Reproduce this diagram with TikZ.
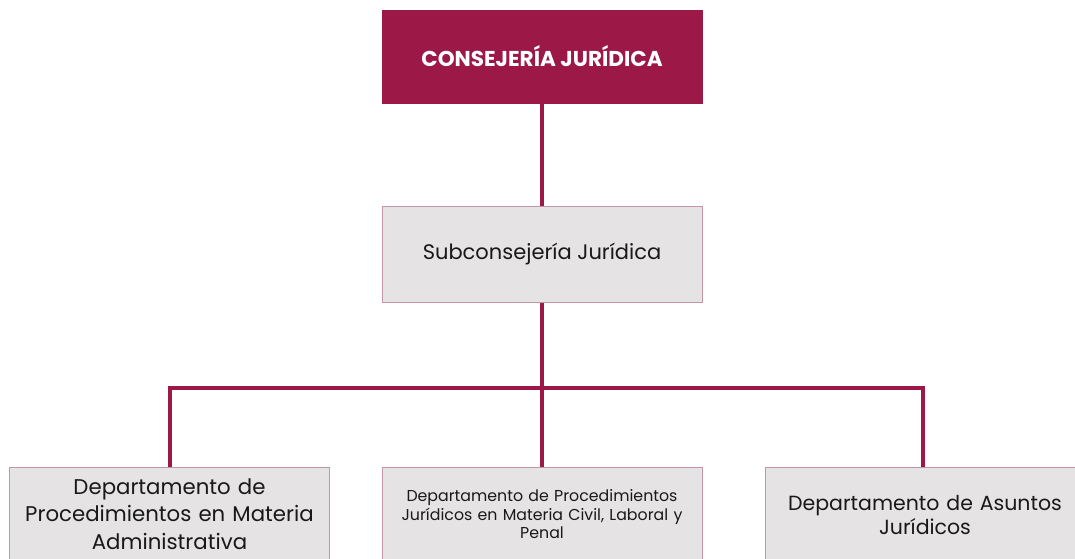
\documentclass[tikz,border=0pt]{standalone}
\usepackage{fontspec}
\setmainfont{Poppins}
\usetikzlibrary{positioning}
\definecolor{guinda}{RGB}{155,24,71}
\definecolor{grisbox}{RGB}{229,227,228}
\definecolor{bordebox}{RGB}{196,150,165}
\definecolor{textobox}{RGB}{25,25,25}
\begin{document}
\begin{tikzpicture}[x=1pt,y=-1pt]
            \tikzset{
            cj head/.style={rectangle,fill=guinda,draw=guinda,text=white,font=\fontsize{21.5}{25}\selectfont\bfseries,minimum width=320pt,minimum height=93pt,inner sep=0},
            cj unit/.style={rectangle,fill=grisbox,draw=bordebox,line width=0.8pt,text=textobox,align=center,minimum width=320pt,inner sep=0,anchor=north},
            cj link/.style={draw=guinda,line width=4pt}
            }
            \clip (0,0) rectangle (1075,558);
            \useasboundingbox (0,0) rectangle (1075,558);
            \node[cj head] (cj) at (542, 56.5) {CONSEJERÍA JURÍDICA};
            \node[cj unit,minimum height=96pt,font=\fontsize{21}{25}\selectfont] (sub) at (542, 206) {Subconsejería Jurídica};
            \node[cj unit,minimum height=93pt,text width=316pt,font=\fontsize{21.3}{27.5}\selectfont] (dpa) at (169.5, 467) {Departamento de\\ Procedimientos en Materia\\ Administrativa};
            \node[cj unit,minimum height=94pt,text width=316pt,font=\fontsize{15.8}{18.5}\selectfont] (dpj) at (542, 467) {Departamento de Procedimientos\\ Jurídicos en Materia Civil, Laboral y\\ Penal};
            \node[cj unit,minimum height=96pt,text width=316pt,font=\fontsize{20.5}{24}\selectfont] (daj) at (925, 467) {Departamento de Asuntos\\ Jurídicos};
            \coordinate (bus) at (542, 388);

            \path[cj link]
            (cj) -- (sub)
            (sub) -- (dpj)
            (dpa.north -| 170,0) |- (bus) -| (daj.north -| 923,0)
            ;
        \end{tikzpicture}
\end{document}
